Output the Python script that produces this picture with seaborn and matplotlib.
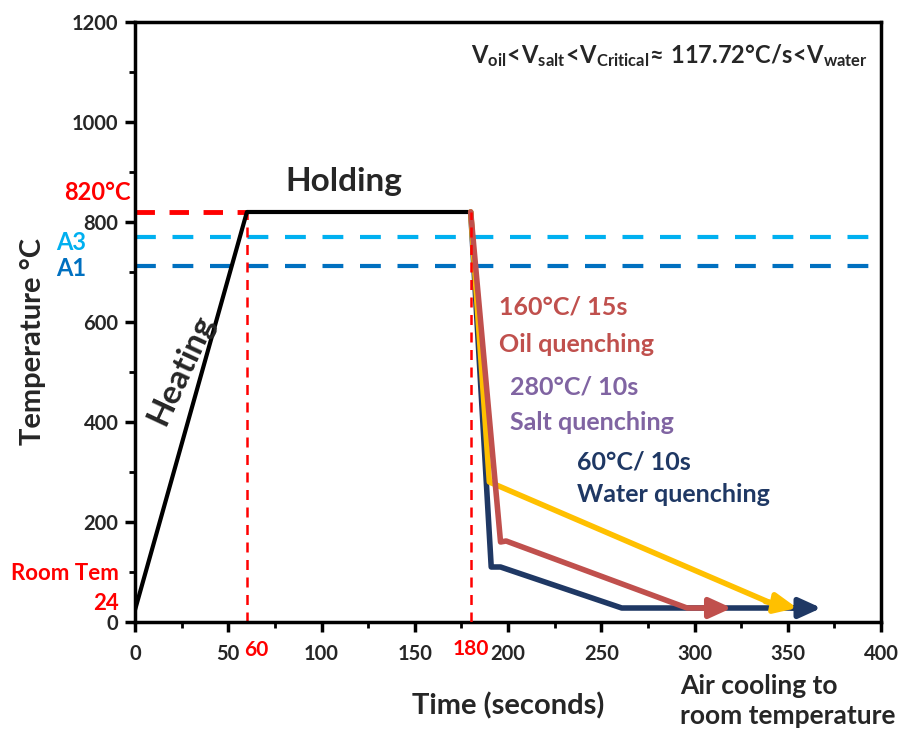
import matplotlib
matplotlib.use("Agg")
import matplotlib.pyplot as plt
import seaborn as sns
import pandas as pd
import numpy as np

sns.set_theme(style="white")
plt.rcParams['font.family'] = ['Lato', 'DejaVu Sans']
plt.rcParams['font.weight'] = 'bold'
plt.rcParams['mathtext.fontset'] = 'custom'
plt.rcParams['mathtext.rm'] = 'Lato:bold'
plt.rcParams['mathtext.bf'] = 'Lato:bold'
plt.rcParams['mathtext.it'] = 'Lato:bold'

# ---- data ----
heat_time = [0, 60, 180]
heat_temp = [24, 820, 820]

salt_time = [180, 190, 344]
salt_temp = [820, 280, 33]
salt_arrow = [344, 355]

oil_time = [180, 196, 199, 296, 310]
oil_temp = [820, 160, 162, 28, 28]
oil_arrow = [308, 320]

water_time = [180, 191, 196, 261, 357]
water_temp = [820, 110, 110, 28, 28]
water_arrow = [355, 368]

A3_temp = 770
A1_temp = 712
x_ticks = [0, 50, 100, 150, 200, 250, 300, 350, 400]
y_ticks = [0, 200, 400, 600, 800, 1000, 1200]

c_salt = '#FFC000'
c_oil = '#C0504D'
c_water = '#1F3864'
c_salt_txt = '#8064A2'
c_A3 = '#00B0F0'
c_A1 = '#0070C0'

fig = plt.figure(figsize=(9.02, 7.33), dpi=100)
ax = fig.add_axes([135/902, 1-622/733, 746/902, 600/733])

# reference lines
ax.axhline(A3_temp, color=c_A3, lw=3, ls=(0, (5, 4)), zorder=1)
ax.axhline(A1_temp, color=c_A1, lw=3, ls=(0, (5, 4)), zorder=1)
ax.plot([0, 60], [820, 820], color='red', lw=3.5, ls=(0, (4, 3)), zorder=2)
ax.plot([60, 60], [0, 820], color='red', lw=1.8, ls=(0, (4, 3)), zorder=2)
ax.plot([180, 180], [0, 820], color='red', lw=1.8, ls=(0, (4, 3)), zorder=5)

df_heat = pd.DataFrame({'t': heat_time, 'T': heat_temp})
sns.lineplot(data=df_heat, x='t', y='T', color='black', lw=3, ax=ax, sort=False, zorder=3)

df_w = pd.DataFrame({'t': water_time, 'T': water_temp})
sns.lineplot(data=df_w, x='t', y='T', color=c_water, lw=4, ax=ax, sort=False, zorder=3)
df_s = pd.DataFrame({'t': salt_time, 'T': salt_temp})
sns.lineplot(data=df_s, x='t', y='T', color=c_salt, lw=4, ax=ax, sort=False, zorder=4)
df_o = pd.DataFrame({'t': oil_time, 'T': oil_temp})
sns.lineplot(data=df_o, x='t', y='T', color=c_oil, lw=4, ax=ax, sort=False, zorder=4)

astyle = '-|>,head_length=1.1,head_width=0.5'
for arr, col, yv in [(water_arrow, c_water, water_temp[-1]), (oil_arrow, c_oil, oil_temp[-1])]:
    ax.annotate('', xy=(arr[1], yv), xytext=(arr[0] - 3, yv),
                arrowprops=dict(arrowstyle=astyle, color=col, lw=4, shrinkA=0, shrinkB=0), zorder=6)
ax.annotate('', xy=(salt_arrow[1], 28), xytext=(salt_arrow[0] - 6, salt_temp[-1] + 8),
            arrowprops=dict(arrowstyle=astyle, color=c_salt, lw=4, shrinkA=0, shrinkB=0), zorder=6)

ax.set_xlim(0, 400)
ax.set_ylim(0, 1200)
ax.set_xticks(x_ticks)
ax.set_yticks(y_ticks)
ax.set_xticks(np.arange(25, 400, 50), minor=True)
ax.set_yticks(np.arange(100, 1200, 200), minor=True)
ax.set_xticklabels([str(v) for v in x_ticks], fontsize=14.5, fontweight='bold')
ax.set_yticklabels([str(v) for v in y_ticks], fontsize=14.5, fontweight='bold')
ax.tick_params(axis='both', which='major', direction='out', length=7, width=2.5, color='black',
               bottom=True, left=True, pad=5)
ax.tick_params(axis='x', which='major', pad=9)
ax.tick_params(axis='both', which='minor', direction='out', length=4, width=2, color='black',
               bottom=True, left=True)
for sp in ax.spines.values():
    sp.set_linewidth(2.5)
    sp.set_color('black')

ax.set_xlabel('Time (seconds)', fontsize=21, fontweight='bold', labelpad=20)
ax.set_ylabel('')
fig.text(33/902, 1-341/733, 'Temperature °C', fontsize=21, fontweight='bold', rotation=90,
         ha='center', va='center')

# annotations
ax.text(112, 880, 'Holding', fontsize=24, fontweight='bold', ha='center', va='center')
ax.text(25, 506, 'Heating', fontsize=24, fontweight='bold', ha='center', va='center', rotation=65)
ax.text(195, 630, '160°C/ 15s', fontsize=18, fontweight='bold', color=c_oil, va='center')
ax.text(195, 556, 'Oil quenching', fontsize=18, fontweight='bold', color=c_oil, va='center')
ax.text(201, 470, '280°C/ 10s', fontsize=18, fontweight='bold', color=c_salt_txt, va='center')
ax.text(201, 400, 'Salt quenching', fontsize=18, fontweight='bold', color=c_salt_txt, va='center')
ax.text(237, 320, '60°C/ 10s', fontsize=18, fontweight='bold', color=c_water, va='center')
ax.text(237, 254, 'Water quenching', fontsize=18, fontweight='bold', color=c_water, va='center')
ax.text(393, 1133,
        r'$\mathbf{V_{oil}\!<\!V_{salt}\!<\!V_{Critical}\!\approx\,117.72°C/s\!<\!V_{water}}$',
        fontsize=17, ha='right', va='center')

fig.text(131/902, 1-193/733, '820°C', color='red', fontsize=17, fontweight='bold', ha='right', va='center')
fig.text(86/902, 1-243/733, 'A3', color=c_A3, fontsize=17, fontweight='bold', ha='right', va='center')
fig.text(86/902, 1-268/733, 'A1', color=c_A1, fontsize=17, fontweight='bold', ha='right', va='center')
fig.text(119/902, 1-573/733, 'Room Tem', color='red', fontsize=16, fontweight='bold', ha='right', va='center')
fig.text(119/902, 1-603/733, '24', color='red', fontsize=16, fontweight='bold', ha='right', va='center')
ax.text(58.5, -56, '60', color='red', fontsize=15, fontweight='bold', ha='left', va='center')
ax.text(180, -54, '180', color='red', fontsize=15, fontweight='bold', ha='center', va='center')
fig.text(680/902, 1-701/733, 'Air cooling to\nroom temperature', fontsize=19, fontweight='bold',
         ha='left', va='center', linespacing=1.35)

fig.savefig('out.png', dpi=100)
